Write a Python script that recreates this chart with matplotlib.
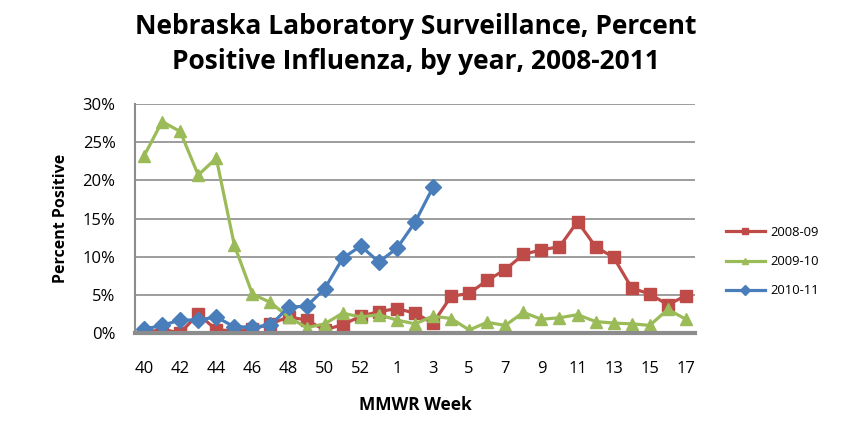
import matplotlib
matplotlib.use('Agg')
import matplotlib.pyplot as plt
from matplotlib.ticker import PercentFormatter

plt.rcParams['font.family'] = ['Open Sans', 'DejaVu Sans']

# MMWR weeks (2008 had a week 53)
weeks = [str(w) for w in range(40, 54)] + [str(w) for w in range(1, 18)]

# percent positive per season
s0809 = [0.0, 0.5, 0.0, 2.5, 0.4, 0.3, 0.5, 1.2, 2.1, 1.7, 0.4, 1.1, 2.2, 2.8,
         3.2, 2.6, 1.3, 4.8, 5.2, 6.9, 8.3, 10.3, 10.9, 11.3, 14.6, 11.3, 9.9,
         5.9, 5.1, 3.7, 4.9]
s0910 = [23.2, 27.7, 26.4, 20.7, 22.9, 11.5, 5.1, 4.0, 2.1, 0.7, 1.2, 2.6, 2.1,
         2.4, 1.7, 1.2, 2.2, 1.9, 0.4, 1.4, 1.0, 2.7, 1.8, 2.0, 2.4, 1.5, 1.3,
         1.2, 1.0, 3.1, 1.8]
s1011 = [0.5, 1.0, 1.7, 1.7, 2.1, 0.8, 0.8, 1.0, 3.4, 3.5, 5.8, 9.8, 11.4, 9.3,
         11.1, 14.5, 19.1]

seasons = ['2008-09', '2009-10', '2010-11']

fig = plt.figure(figsize=(8.47, 4.24), dpi=100)
ax = fig.add_axes([0.1594, 0.2146, 0.6611, 0.5401])

x = range(len(weeks))
ax.plot(x, s0809, color='#BE4B48', lw=2.3, marker='s', ms=8, label=seasons[0])
ax.plot(x, s0910, color='#9BBB59', lw=2.3, marker='^', ms=9, label=seasons[1])
ax.plot(range(len(s1011)), s1011, color='#4A7EBB', lw=2.3, marker='D', ms=8.5,
        label=seasons[2])

ax.set_xlim(-0.5, len(weeks) - 0.5)
ax.set_ylim(0, 30)
ax.set_yticks([0, 5, 10, 15, 20, 25, 30])
ax.yaxis.set_major_formatter(PercentFormatter(decimals=0))
ax.set_xticks(list(x)[::2])
ax.set_xticklabels(weeks[::2])
ax.tick_params(axis='both', length=0, labelsize=12)
ax.tick_params(axis='x', pad=20)
ax.tick_params(axis='y', pad=14)

ax.grid(axis='y', color='#8C8C8C', lw=1.2)
ax.set_axisbelow(True)
for side in ['top', 'right']:
    ax.spines[side].set_visible(False)
ax.spines['left'].set_color('#8C8C8C')
ax.spines['left'].set_linewidth(1.5)
ax.spines['bottom'].set_color('#8C8C8C')
ax.spines['bottom'].set_linewidth(3)

ax.set_ylabel('Percent Positive', fontsize=11.5, fontweight='bold', labelpad=10)
ax.set_xlabel('MMWR Week', fontsize=12.5, fontweight='bold', labelpad=14)

fig.text(0.491, 0.896, 'Nebraska Laboratory Surveillance, Percent\n'
         'Positive Influenza, by year, 2008-2011', ha='center', va='center',
         fontsize=19, fontweight='bold', linespacing=1.38)

fig.legend(loc='center left', bbox_to_anchor=(0.843, 0.383), frameon=False,
           fontsize=9.4, handlelength=3.0, labelspacing=1.25, handletextpad=0.4,
           markerscale=0.55)

fig.savefig('out.png', dpi=100)
